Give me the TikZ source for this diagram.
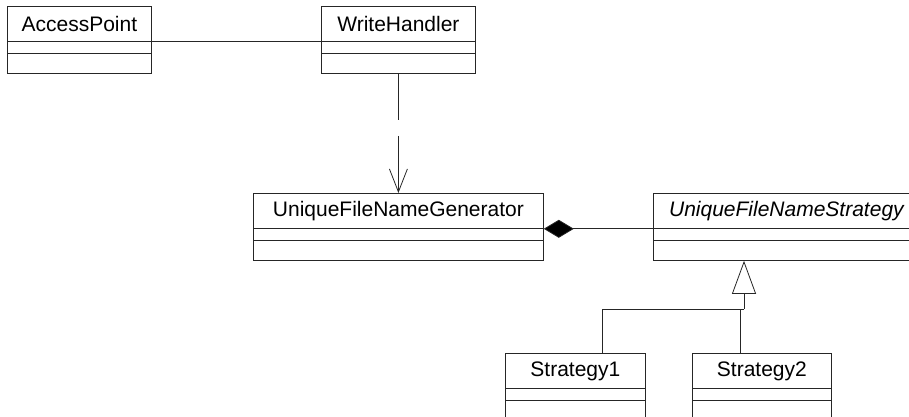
\documentclass[tikz,border=0pt]{standalone}
\usepackage{fontspec}
\setmainfont{Liberation Sans}
\usetikzlibrary{arrows.meta}

% class box: name compartment as node, two empty compartments below
\newcommand{\umlclass}[5]{%
  \node[class name,minimum width=#4pt] (#1) at (#2,#3) {#5};
  \draw[class line] (#1.south west) rectangle ++(#4,32);
  \draw[class line] (#1.south west) ++(0,12) -- ++(#4,0);
  \path (#1.south) ++(0,32) coordinate (#1 bottom);
}

\begin{document}
\begin{tikzpicture}[x=1pt,y=-1pt]
\tikzstyle{class line}=[draw=black!85,line width=0.8pt]
\tikzset{
	class name/.style={rectangle,draw=black!85,line width=0.8pt,anchor=north west,
		minimum height=35pt,inner sep=0,font=\fontsize{21}{25}\selectfont},
	assoc/.style={draw=black!85,line width=0.8pt},
	depends/.style={assoc,dash pattern=on 46pt off 16pt on 200pt off 0pt,
		-{Straight Barb[length=23pt,width=18pt,line width=0.8pt]}},
	composed/.style={assoc,{Diamond[length=30pt,width=18pt,fill=black]}-},
	extends/.style={assoc,-{Triangle[open,length=33pt,width=24pt,fill=white]}}
}
\useasboundingbox (0,0) rectangle (909,417);
\clip (0,0) rectangle (909,417);

\umlclass{access}{7}{6}{144}{AccessPoint}
\umlclass{writer}{321}{6}{154}{WriteHandler}
\umlclass{generator}{253}{193}{290}{UniqueFileNameGenerator}
\umlclass{strategy}{653}{193}{266}{\itshape UniqueFileNameStrategy}
\umlclass{strategyA}{505}{353}{140}{Strategy1}
\umlclass{strategyB}{692}{353}{139}{Strategy2}

\coordinate (fork) at (744,309);

\draw[assoc] (access.south east) -- (writer.south west);
\draw[depends] (writer bottom) -- (generator.north);
\draw[composed] (generator.south east) -- (strategy.south west);
\draw[extends] (fork) -- (fork |- strategy bottom);
\draw[assoc] ([xshift=97pt]strategyA.north west) |- (fork);
\draw[assoc] ([xshift=48pt]strategyB.north west) |- (fork);
\end{tikzpicture}
\end{document}
